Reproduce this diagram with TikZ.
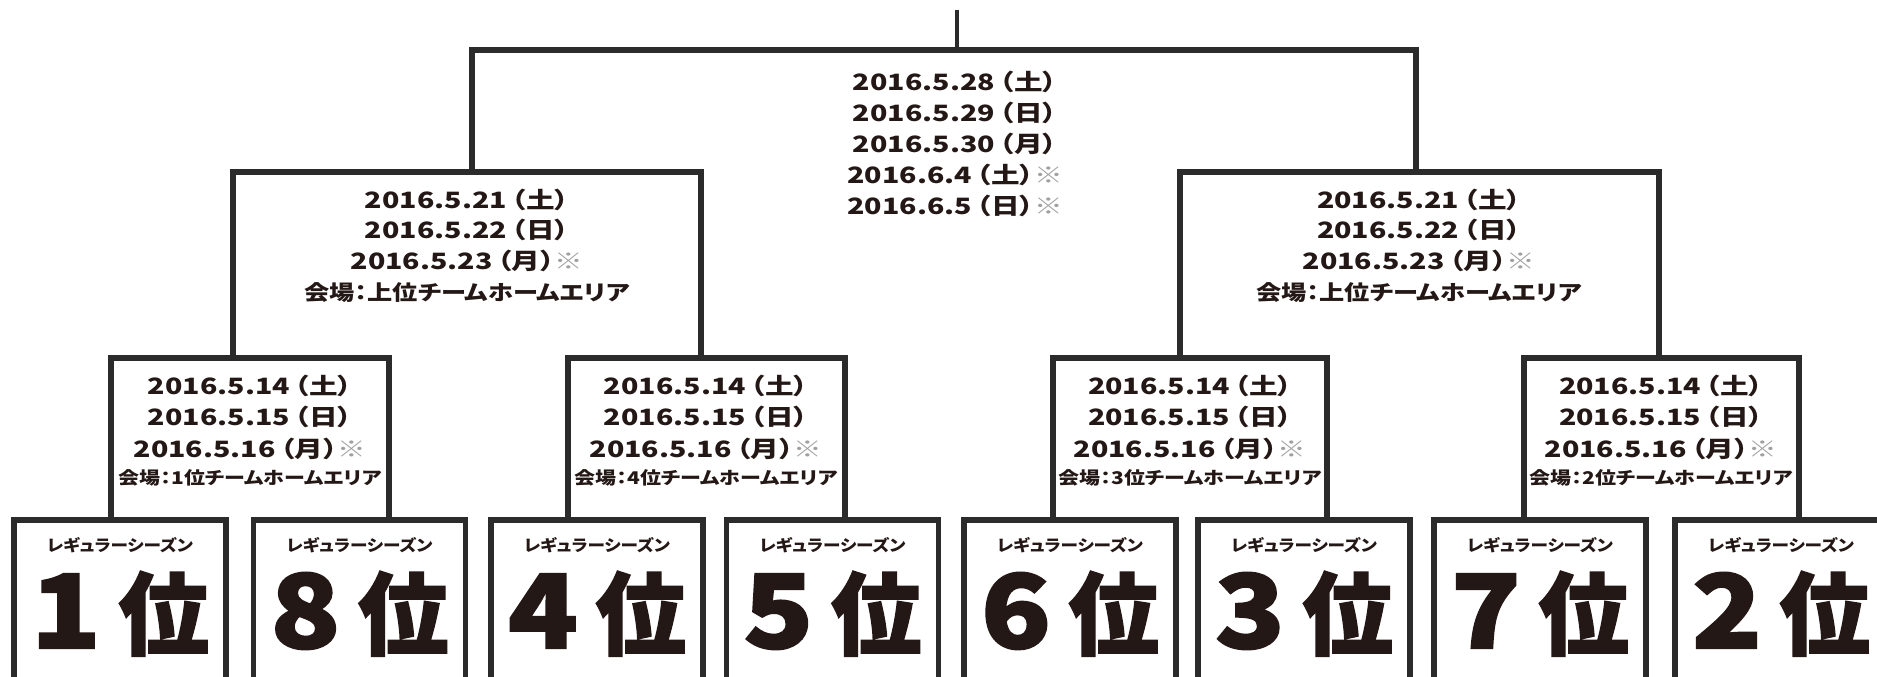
\documentclass[tikz,border=0pt]{standalone}
\usepackage{fontspec}
\usepackage{graphicx}
\usetikzlibrary{calc}
\newfontfamily\jpdate{Noto Sans CJK JP}[RawFeature=+palt,FakeStretch=1.27]
\newfontfamily\jpvenue{Noto Sans CJK JP}[RawFeature=+palt,FakeStretch=1.2]
\newfontfamily\jpkana{Noto Sans CJK JP}[RawFeature=+palt,FakeStretch=1.1]
\newfontfamily\jpbig{Noto Sans CJK JP}[FakeBold=2]
\definecolor{ink}{HTML}{231815}
\definecolor{linec}{HTML}{2B2B2B}
\definecolor{kome}{HTML}{A0A0A0}
\newcommand\kome{\textcolor{kome}{※}}
\newcommand\dw[1]{\hspace{5pt}（#1）}
\tikzset{
  br/.style={draw=linec, line width=5.5pt, line join=miter, line cap=rect},
  stub/.style={draw=linec, line width=3.5pt},
  leaf/.style={draw=linec, line width=5.5pt, minimum width=212pt, minimum height=220pt,
    anchor=north, inner sep=0pt, outer sep=0pt},
  dtf/.style={text=ink, font=\jpdate\bfseries\fontsize{22.5}{31.2}\selectfont, align=center, inner sep=0pt},
  dts/.style={text=ink, font=\jpdate\bfseries\fontsize{22.5}{30.5}\selectfont, align=center, inner sep=0pt},
  dtq/.style={text=ink, font=\jpdate\bfseries\fontsize{22.5}{31.5}\selectfont, align=center, inner sep=0pt},
  venues/.style={text=ink, font=\jpvenue\bfseries\fontsize{21}{22}\selectfont, inner sep=0pt},
  venueq/.style={text=ink, font=\jpvenue\bfseries\fontsize{17.5}{18}\selectfont, inner sep=0pt},
  kana/.style={text=ink, font=\jpkana\bfseries\fontsize{16}{17}\selectfont, inner sep=0pt},
  rank/.style={text=ink, font=\jpbig\bfseries, inner sep=0pt, anchor=base},
}
\newcommand\mkleaf[3]{%
  \node[leaf] (#1) at (#2,520) {};
  \node[kana] (#1k) at ($(#1.north)+(0,25)$) {レギュラーシーズン};
  \node[rank] (#1r) at ($(#1.north)+(0,128)$)
    {{\fontsize{102}{102}\selectfont\scalebox{1.12}[1]{#3}}\hspace{18pt}{\fontsize{90}{90}\selectfont 位}};
}
\begin{document}
\begin{tikzpicture}[x=1pt,y=-1pt]
\useasboundingbox (0,0) rectangle (1877,677);
\clip (0,0) rectangle (1877,677);
\fill[white] (0,0) rectangle (1877,677);

% leaves
\mkleaf{L1}{120}{1}
\mkleaf{L2}{359.5}{8}
\mkleaf{L3}{597}{4}
\mkleaf{L4}{832.5}{5}
\mkleaf{L5}{1070}{6}
\mkleaf{L6}{1304}{3}
\mkleaf{L7}{1540}{7}
\mkleaf{L8}{1781}{2}

% quarter-final brackets
\coordinate (Q1a) at (111,358);  \coordinate (Q1b) at (389,358);
\coordinate (Q2a) at (568,358);  \coordinate (Q2b) at (845,358);
\coordinate (Q3a) at (1053,358); \coordinate (Q3b) at (1327,358);
\coordinate (Q4a) at (1524,358); \coordinate (Q4b) at (1799,358);
\draw[br] (L1.north -| Q1a) -- (Q1a) -- (Q1b) -- (L2.north -| Q1b);
\draw[br] (L3.north -| Q2a) -- (Q2a) -- (Q2b) -- (L4.north -| Q2b);
\draw[br] (L5.north -| Q3a) -- (Q3a) -- (Q3b) -- (L6.north -| Q3b);
\draw[br] (L7.north -| Q4a) -- (Q4a) -- (Q4b) -- (L8.north -| Q4b);

% semi-final brackets
\coordinate (S1a) at (233,172);  \coordinate (S1b) at (701,172);
\coordinate (S2a) at (1180,172); \coordinate (S2b) at (1659,172);
\draw[br] (Q1a -| S1a) -- (S1a) -- (S1b) -- (Q2a -| S1b);
\draw[br] (Q3a -| S2a) -- (S2a) -- (S2b) -- (Q4a -| S2b);

% final bracket
\coordinate (Fa) at (472,50); \coordinate (Fb) at (1416,50);
\draw[br] (S1a -| Fa) -- (Fa) -- (Fb) -- (S2a -| Fb);
\coordinate (T) at (957,10);
\draw[stub] (T) -- (T |- Fa);

% final dates
\node[dtf] (Fd) at (955,144) {2016.5.28\dw{土}\\2016.5.29\dw{日}\\2016.5.30\dw{月}\\2016.6.4\dw{土}\kome\\2016.6.5\dw{日}\kome};

% semi-final texts
\node[dts] (S1d) at (467,230) {2016.5.21\dw{土}\\2016.5.22\dw{日}\\2016.5.23\dw{月}\kome};
\node[venues] (S1v) at (467,293) {会場：上位チームホームエリア};
\node[dts] (S2d) at (1419,230) {2016.5.21\dw{土}\\2016.5.22\dw{日}\\2016.5.23\dw{月}\kome};
\node[venues] (S2v) at (1419,293) {会場：上位チームホームエリア};

% quarter-final texts
\node[dtq] (Q1d) at (250,417) {2016.5.14\dw{土}\\2016.5.15\dw{日}\\2016.5.16\dw{月}\kome};
\node[venueq] (Q1v) at (250,478) {会場：1位チームホームエリア};
\node[dtq] (Q2d) at (706,417) {2016.5.14\dw{土}\\2016.5.15\dw{日}\\2016.5.16\dw{月}\kome};
\node[venueq] (Q2v) at (706,478) {会場：4位チームホームエリア};
\node[dtq] (Q3d) at (1190,417) {2016.5.14\dw{土}\\2016.5.15\dw{日}\\2016.5.16\dw{月}\kome};
\node[venueq] (Q3v) at (1190,478) {会場：3位チームホームエリア};
\node[dtq] (Q4d) at (1661,417) {2016.5.14\dw{土}\\2016.5.15\dw{日}\\2016.5.16\dw{月}\kome};
\node[venueq] (Q4v) at (1661,478) {会場：2位チームホームエリア};
\end{tikzpicture}
\end{document}
